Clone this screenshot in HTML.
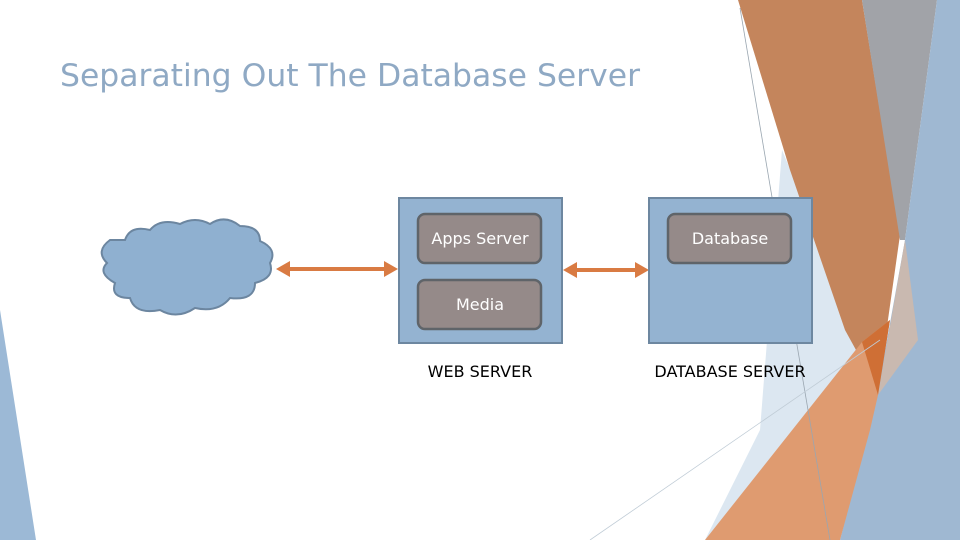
<!DOCTYPE html>
<html><head><style>body{margin:0}svg{display:block}</style></head><body>
<svg width="960" height="540" viewBox="0 0 960 540" xmlns="http://www.w3.org/2000/svg" font-family="'DejaVu Sans', 'Liberation Sans', sans-serif">
<rect width="960" height="540" fill="#fff"/>
<polygon points="0,310 0,540 36,540" fill="#9cb9d6"/>
<polygon points="782,150 862,340 860,400 705,540 760,430" fill="#dce7f1"/>
<polygon points="738,0 862,0 900,235 878,390 845,330 790,170" fill="#c4855c"/>
<polygon points="862,0 937,0 905,240 900,240" fill="#a1a3a8"/>
<polygon points="937,0 960,0 960,540 840,540 878,390 905,240" fill="#9fb8d2"/>
<polygon points="905,240 918,340 878,395" fill="#c9b9b0"/>
<polygon points="705,540 862,342 890,320 878,395 870,430 840,540" fill="#df9b70"/>
<polygon points="862,342 890,320 878,395" fill="#cf6f35"/>
<line x1="740" y1="8" x2="830" y2="540" stroke="#9aa6b0" stroke-width="0.8"/>
<line x1="590" y1="540" x2="880" y2="340" stroke="#c0ccd6" stroke-width="0.8"/>
<text x="60" y="86" font-size="31" fill="#8fa9c4" textLength="580" lengthAdjust="spacingAndGlyphs">Separating Out The Database Server</text>
<path d="M125,240 q5,-15 25,-10 q10,-12 30,-6 q15,-8 30,0 q15,-10 30,2 q20,0 20,15 q18,8 10,22 q5,15 -15,20 q0,18 -25,15 q-12,15 -35,10 q-18,12 -35,2 q-25,5 -30,-12 q-20,0 -15,-15 q-18,-10 -8,-20 q-12,-12 3,-23 z" fill="#8fb0d0" stroke="#6c86a0" stroke-width="2"/>
<g stroke="#d97b43" stroke-width="4">
<line x1="285" y1="269" x2="390" y2="269"/>
<line x1="572" y1="270" x2="640" y2="270"/>
</g>
<g fill="#d97b43">
<polygon points="276,269 290,261 290,277"/><polygon points="398,269 384,261 384,277"/>
<polygon points="563,270 577,262 577,278"/><polygon points="649,270 635,262 635,278"/>
</g>
<rect x="399" y="198" width="163" height="145" fill="#94b3d1" stroke="#6d87a0" stroke-width="2"/>
<rect x="649" y="198" width="163" height="145" fill="#94b3d1" stroke="#6d87a0" stroke-width="2"/>
<g fill="#958a89" stroke="#5f6469" stroke-width="2.5">
<rect x="418" y="214" width="123" height="49" rx="7"/>
<rect x="418" y="280" width="123" height="49" rx="7"/>
<rect x="668" y="214" width="123" height="49" rx="7"/>
</g>
<g fill="#fff" font-size="16" text-anchor="middle">
<text x="480" y="244">Apps Server</text>
<text x="480" y="310">Media</text>
<text x="730" y="244">Database</text>
</g>
<g fill="#000" font-size="16" text-anchor="middle">
<text x="480" y="377">WEB SERVER</text>
<text x="730" y="377">DATABASE SERVER</text>
</g>
</svg>
</body></html>
